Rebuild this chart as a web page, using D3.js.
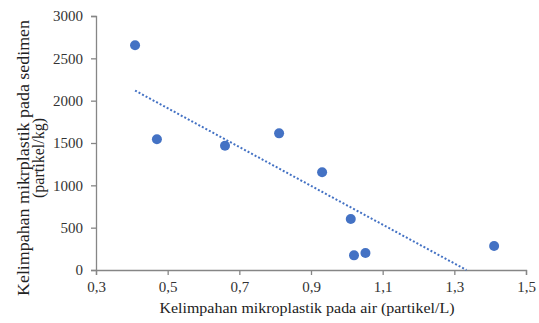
<!DOCTYPE html>
<html>
<head>
<meta charset="utf-8">
<script src="https://cdn.jsdelivr.net/npm/d3@7"></script>
<style>
  body { margin: 0; background: #fff; }
  text { font-family: "Liberation Serif", "Times New Roman", serif; }
</style>
</head>
<body>
<div id="chart"></div>
<script>
// values
var airValues = [0.409, 0.470, 0.660, 0.811, 0.931, 1.011, 1.020, 1.052, 1.411];
var sedimenValues = [2654, 1544, 1468, 1614, 1154, 602, 173, 201, 283];
var xTicks = [0.3, 0.5, 0.7, 0.9, 1.1, 1.3, 1.5];
var yTicks = [0, 500, 1000, 1500, 2000, 2500, 3000];

var data = airValues.map(function(d, i) { return {x: d, y: sedimenValues[i]}; });

var margin = {top: 16, right: 13, bottom: 53, left: 96},
    width = 539 - margin.left - margin.right,
    height = 323 - margin.top - margin.bottom;

var svg = d3.select("#chart").append("svg")
    .attr("width", 539).attr("height", 323)
  .append("g")
    .attr("transform", "translate(" + margin.left + "," + margin.top + ")");

var x = d3.scaleLinear().domain([0.3, 1.5]).range([0, width]);
var y = d3.scaleLinear().domain([0, 3000]).range([height, 0]);

// axes
var xAxis = svg.append("g").attr("transform", "translate(0," + height + ")")
  .call(d3.axisBottom(x).tickValues(xTicks).tickSize(5).tickFormat(function(d) { return d3.format(".1f")(d).replace(".", ","); }));
var yAxis = svg.append("g")
  .call(d3.axisLeft(y).tickValues(yTicks).tickSize(5).tickFormat(d3.format("d")));

[xAxis, yAxis].forEach(function(a) {
  a.select(".domain").attr("stroke", "#868686").attr("stroke-width", 1.3);
  a.selectAll(".tick line").attr("stroke", "#868686").attr("stroke-width", 1.3);
  a.selectAll(".tick text").style("font-size", "15px").attr("fill", "#333")
    .style("font-family", "'Liberation Serif', 'Times New Roman', serif");
});
xAxis.selectAll(".tick text").attr("dy", "0.9em");
yAxis.selectAll(".tick text").attr("x", -13);

// trendline (least squares, clipped to the plot area)
var mx = d3.mean(data, function(d) { return d.x; }),
    my = d3.mean(data, function(d) { return d.y; });
var slope = d3.sum(data, function(d) { return (d.x - mx) * (d.y - my); }) /
            d3.sum(data, function(d) { return (d.x - mx) * (d.x - mx); });
var icpt = my - slope * mx;
var x0 = d3.min(airValues), x1 = Math.min(d3.max(airValues), -icpt / slope);

svg.append("line")
  .attr("x1", x(x0)).attr("y1", y(slope * x0 + icpt))
  .attr("x2", x(x1)).attr("y2", y(slope * x1 + icpt))
  .attr("stroke", "#4472C4")
  .attr("stroke-width", 2)
  .attr("stroke-dasharray", "2,2");

// points
svg.selectAll("circle")
  .data(data)
  .enter()
  .append("circle")
    .attr("cx", function(d) { return x(d.x); })
    .attr("cy", function(d) { return y(d.y); })
    .attr("r", 5)
    .attr("fill", "#4472C4");

// axis titles
svg.append("text")
  .attr("x", 307 - margin.left)
  .attr("y", height + 43)
  .style("text-anchor", "middle")
  .style("font-size", "15px")
  .attr("textLength", 295)
  .attr("lengthAdjust", "spacingAndGlyphs")
  .attr("fill", "#222")
  .text("Kelimpahan mikroplastik pada air (partikel/L)");

var yt = svg.append("text")
  .attr("transform", "translate(" + (29 - margin.left) + "," + (158 - margin.top) + ") rotate(-90)")
  .style("text-anchor", "middle")
  .style("font-size", "16px")
  .attr("fill", "#222");
yt.append("tspan").attr("x", 0).attr("dy", 0)
  .attr("textLength", 276).attr("lengthAdjust", "spacingAndGlyphs")
  .text("Kelimpahan mikrplastik pada sedimen");
yt.append("tspan").attr("x", 0).attr("dy", 15).text("(partikel/kg)");
</script>
</body>
</html>
